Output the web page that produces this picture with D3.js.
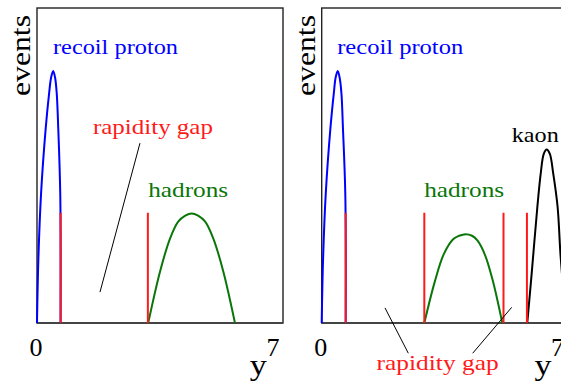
<!DOCTYPE html>
<html><head><meta charset="utf-8">
<script src="https://cdn.jsdelivr.net/npm/d3@7"></script>
<style>
html,body{margin:0;padding:0;background:#fff;overflow:hidden;}
svg{display:block;}
</style></head><body>
<svg id="c" width="561" height="387" font-family="Liberation Serif, DejaVu Serif, Times New Roman, serif"></svg>
<script>
// ---- data (x = rapidity y, value = events, arbitrary units) ----
const xTicks = [0, 7];
const xTickLabels = ["0", "7"];
const xLabel = "y";
const yLabel = "events";

const protonLeft = [[0,0],[0.04,0.20],[0.12,0.41],[0.26,0.62],[0.36,0.73],[0.42,0.78],[0.48,0.80],[0.535,0.78],[0.585,0.73],[0.63,0.62],[0.69,0.41],[0.70,0]];
const hadronsLeft = [[3.30,0],[3.65,0.163],[3.95,0.269],[4.19,0.322],[4.40,0.341],[4.59,0.348],[4.78,0.341],[4.99,0.322],[5.23,0.269],[5.53,0.163],[5.875,0]];
const gapLinesLeft = [0.70, 3.29];
const gapHeight = 0.35;

const protonRight = [[0,0],[0.04,0.20],[0.12,0.41],[0.26,0.62],[0.36,0.73],[0.415,0.78],[0.475,0.80],[0.53,0.78],[0.585,0.73],[0.63,0.62],[0.70,0.41],[0.712,0]];
const hadronsRight = [[3.045,0],[3.36,0.133],[3.62,0.218],[3.90,0.266],[4.08,0.277],[4.273,0.282],[4.46,0.277],[4.62,0.262],[4.85,0.215],[5.08,0.133],[5.359,0]];
const kaonRight = [[6.10,0],[6.23,0.156],[6.40,0.369],[6.50,0.475],[6.59,0.537],[6.677,0.551],[6.77,0.537],[6.87,0.475],[7.00,0.369],[7.09,0.211],[7.25,0]];
const gapLinesRight = [0.712, 3.045, 5.395, 6.09];

const colBlue = "#0000ff", colRed = "#ff1a1a", colGreen = "#0a760a", colBlack = "#000";

const W = 246, H = 315;
const svg = d3.select("#c");

function panel(ox, oy, cfg) {
  const g = svg.append("g").attr("transform", `translate(${ox},${oy})`);
  const x = d3.scaleLinear().domain([0, 7.3]).range([0, W]);
  const y = d3.scaleLinear().domain([0, 1]).range([H, 0]);
  const line = d3.line().x(d => x(d[0])).y(d => y(d[1])).curve(d3.curveCatmullRom.alpha(0.5));

  // frame
  g.append("rect").attr("x", 0).attr("y", 0).attr("width", W).attr("height", H)
    .attr("fill", "none").attr("stroke", "#222").attr("stroke-width", 1.4);
  g.append("line").attr("x1", 0).attr("x2", W).attr("y1", H).attr("y2", H)
    .attr("stroke", "#444").attr("stroke-width", 2);

  // curves
  cfg.curves.forEach(c => {
    g.append("path").datum(c.data).attr("d", line).attr("fill", "none")
      .attr("stroke", c.color).attr("stroke-width", 2);
  });
  // gap lines
  cfg.gaps.forEach(v => {
    g.append("line").attr("x1", x(v)).attr("x2", x(v)).attr("y1", y(0)).attr("y2", y(gapHeight))
      .attr("stroke", colRed).attr("stroke-width", 2);
  });
  // pointer lines
  cfg.pointers.forEach(p => {
    g.append("line").attr("x1", x(p[0][0])).attr("y1", y(p[0][1]))
      .attr("x2", x(p[1][0])).attr("y2", y(p[1][1]))
      .attr("stroke", "#000").attr("stroke-width", 1);
  });
  // labels
  cfg.labels.forEach(l => {
    g.append("text").attr("x", x(l.x)).attr("y", y(l.y)).text(l.text)
      .attr("fill", l.color).attr("font-size", 22)
      .attr("textLength", l.w).attr("lengthAdjust", "spacingAndGlyphs");
  });
  // ticks
  xTicks.forEach((t, i) => {
    g.append("text").attr("x", x(t) + (i === 0 ? -1 : 0)).attr("y", H + 33)
      .attr("text-anchor", "middle").attr("font-size", 26).text(xTickLabels[i]);
  });
  g.append("text").attr("x", x(7) - 23).attr("y", H + 52).attr("font-size", 30)
    .attr("textLength", 17).attr("lengthAdjust", "spacingAndGlyphs").text(xLabel);
  g.append("text").attr("transform", `translate(-7,${88}) rotate(-90)`)
    .attr("font-size", 28).attr("textLength", 81).attr("lengthAdjust", "spacingAndGlyphs").text(yLabel);
}

panel(37, 8, {
  curves: [{data: protonLeft, color: colBlue}, {data: hadronsLeft, color: colGreen}],
  gaps: gapLinesLeft,
  pointers: [[[3.056, 0.571], [1.869, 0.098]]],
  labels: [
    {text: "recoil proton", x: 0.475, y: 0.854, color: colBlue, w: 125},
    {text: "rapidity gap", x: 1.66, y: 0.60, color: colRed, w: 120},
    {text: "hadrons", x: 3.30, y: 0.40, color: colGreen, w: 80}
  ]
});

panel(321.7, 8, {
  curves: [{data: protonRight, color: colBlue}, {data: hadronsRight, color: colGreen}, {data: kaonRight, color: colBlack}],
  gaps: gapLinesRight,
  pointers: [[[1.878, 0.048], [2.570, -0.096]], [[5.638, 0.0498], [4.481, -0.096]]],
  labels: [
    {text: "recoil proton", x: 0.46, y: 0.854, color: colBlue, w: 126},
    {text: "hadrons", x: 3.04, y: 0.40, color: colGreen, w: 80},
    {text: "kaon", x: 5.64, y: 0.576, color: colBlack, w: 47},
    {text: "rapidity gap", x: 1.63, y: -0.149, color: colRed, w: 122}
  ]
});
</script>
</body></html>
